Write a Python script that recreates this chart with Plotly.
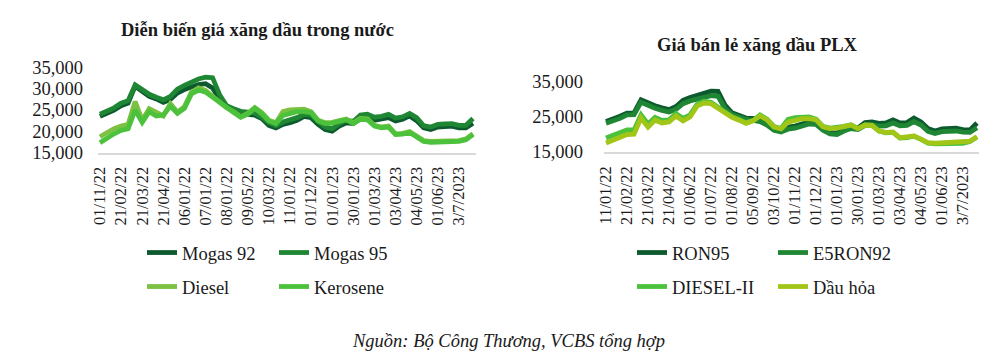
import plotly.graph_objects as go

# ---------------- data ----------------
n_points = 54
idx = list(range(n_points))
tick_idx = list(range(0, 52, 3))  # 18 labelled dates

left_ticks = ["01/11/22", "21/02/22", "21/03/22", "21/04/22", "06/01/22", "07/01/22",
              "08/01/22", "09/05/22", "10/03/22", "11/01/22", "01/12/22", "01/01/23",
              "30/01/23", "01/03/23", "03/04/23", "04/05/23", "01/06/23", "3/7/2023"]
right_ticks = ["11/01/22", "21/02/22", "21/03/22", "21/04/22", "01/06/22", "01/07/22",
               "01/08/22", "05/09/22", "03/10/22", "01/11/22", "01/12/22", "01/01/23",
               "30/01/23", "01/03/23", "03/04/23", "04/05/23", "01/06/23", "3/7/2023"]

mogas92 = [23500, 24200, 25000, 26000, 26600, 30600, 29400, 28200, 27600, 26800,
           27500, 29000, 29800, 30400, 31000, 31200, 30200, 27500, 25600, 25000,
           24200, 24000, 23800, 23000, 21400, 20800, 21600, 22000, 22600, 23500,
           23200, 21600, 20400, 20000, 21200, 22000, 21800, 23000, 23200, 22600,
           22800, 23200, 22400, 22800, 23600, 22500, 20800, 20400, 21000, 21100,
           21200, 20800, 20800, 21900]
mogas95 = [24000, 24700, 25500, 26600, 27200, 30900, 29800, 28700, 28000, 27400,
           28200, 29900, 30800, 31600, 32300, 32700, 32600, 28600, 26000, 25300,
           24700, 24500, 24300, 23300, 22000, 21300, 22200, 22700, 23200, 24000,
           23800, 22300, 21000, 20600, 21800, 22600, 22300, 23800, 24000, 23300,
           23500, 24000, 23100, 23400, 24200, 23200, 21300, 21000, 21600, 21700,
           21800, 21400, 21400, 23000]
diesel = [18700, 19700, 20600, 21200, 21600, 27000, 22600, 25300, 24300, 23600,
          26500, 24500, 25800, 29200, 30200, 29600, 28200, 26800, 25500, 24600,
          23400, 24200, 25600, 24400, 22600, 22000, 24600, 25000, 25200, 25200,
          24600, 22600, 22000, 22100, 22500, 22900, 22000, 23000, 22900, 21400,
          21000, 21200, 19400, 19500, 19900, 18900, 17800, 17600, 17700, 17600,
          17700, 17800, 18200, 19400]
kerosene = [17300, 18400, 19400, 20200, 20600, 25000, 22100, 24600, 23600, 23800,
            25900, 24200, 25400, 28800, 29700, 29200, 28000, 26600, 25300, 24400,
            23300, 24000, 25400, 24100, 22400, 21800, 23700, 24200, 24600, 24600,
            24400, 22400, 21800, 21900, 22300, 22700, 21800, 22800, 22700, 21200,
            20800, 21000, 19200, 19300, 19700, 18700, 17600, 17400, 17500, 17400,
            17500, 17600, 18000, 19200]

ron95 = [23700, 24300, 25200, 26100, 26200, 29900, 29000, 28200, 27600, 27100,
         28000, 29800, 30600, 31300, 32000, 32400, 32300, 28400, 26200, 25400,
         24700, 24600, 24200, 23200, 21700, 21200, 22100, 22400, 22900, 23600,
         23400, 21700, 20600, 20400, 21600, 22200, 21900, 23400, 23600, 23200,
         23300, 24200, 23300, 23400, 24700, 23600, 21700, 21000, 21600, 21800,
         21800, 21400, 21300, 23300]
e5ron92 = [23200, 23800, 24600, 25600, 25700, 29200, 28300, 27500, 26900, 26400,
           27200, 28800, 29600, 30200, 30800, 31100, 30900, 27400, 25700, 24900,
           24300, 24000, 23700, 22700, 21200, 20700, 21500, 21800, 22300, 23000,
           22900, 21200, 20200, 20000, 21000, 21700, 21400, 22600, 22800, 22400,
           22500, 23300, 22500, 22600, 23700, 22700, 20900, 20300, 20800, 21000,
           21000, 20700, 20600, 21900]
diesel2 = [19000, 19800, 20600, 21300, 21300, 25600, 23000, 24900, 24000, 24200,
           26000, 24600, 25600, 28600, 29500, 29200, 27800, 26400, 25100, 24300,
           23400, 24000, 25600, 24400, 22300, 21700, 24300, 24800, 25000, 25000,
           24400, 22300, 21800, 21900, 22300, 22800, 21700, 22700, 22600, 21000,
           20500, 20600, 19000, 19100, 19500, 18600, 17500, 17300, 17400, 17300,
           17400, 17500, 18000, 19300]
dau_hoa = [17600, 18300, 19200, 20000, 20100, 24700, 22100, 24100, 23300, 23600,
           25300, 23900, 25000, 28100, 29000, 28800, 27500, 26200, 24900, 24100,
           23200, 23900, 25300, 24200, 22100, 21600, 23500, 24000, 24500, 24500,
           24200, 22200, 21700, 21800, 22200, 22700, 21700, 22700, 22600, 21000,
           20600, 20700, 19100, 19200, 19600, 18700, 17700, 17500, 17600, 17500,
           17600, 17700, 18100, 19400]

# ---------------- styling ----------------
FONT = "Liberation Serif, Times New Roman, serif"
TXT = "#1a1a1a"
C_DARK = "#0d5a2f"
C_MID = "#1f8733"
C_DIESEL = "#7cc142"
C_KERO = "#4cc23c"
C_DAUHOA = "#a2c617"
LW = 4.8

fig = go.Figure()

left_series = [("Mogas 92", mogas92, C_DARK, "legend"),
               ("Mogas 95", mogas95, C_MID, "legend"),
               ("Diesel", diesel, C_DIESEL, "legend2"),
               ("Kerosene", kerosene, C_KERO, "legend2")]
right_series = [("RON95", ron95, C_DARK, "legend3"),
                ("E5RON92", e5ron92, C_MID, "legend3"),
                ("DIESEL-II", diesel2, C_KERO, "legend4"),
                ("Dầu hỏa", dau_hoa, C_DAUHOA, "legend4")]

for name, vals, col, lg in left_series:
    fig.add_trace(go.Scatter(x=idx, y=vals, mode="lines", name=name,
                             line=dict(color=col, width=LW), legend=lg,
                             xaxis="x", yaxis="y"))
for name, vals, col, lg in right_series:
    fig.add_trace(go.Scatter(x=idx, y=vals, mode="lines", name=name,
                             line=dict(color=col, width=LW), legend=lg,
                             xaxis="x2", yaxis="y2"))

W, H = 1000, 363


def px_x(p):
    return p / W


def px_y(p):
    return 1 - p / H


xcommon = dict(showgrid=False, zeroline=False, showline=True, linecolor="#d9d9d9",
               linewidth=1.5, tickangle=-90, tickmode="array", tickvals=tick_idx,
               ticks="", ticklabelstandoff=6, automargin=False,
               tickfont=dict(family=FONT, size=16.5, color=TXT))
ycommon = dict(showgrid=False, zeroline=False, showline=False, tickformat=",d",
               range=[15000, 35000], ticks="", tick0=15000, automargin=False,
               tickfont=dict(family=FONT, size=18.5, color=TXT))

leg_common = dict(orientation="h", bgcolor="rgba(0,0,0,0)", xanchor="left",
                  yanchor="middle", entrywidthmode="pixels",
                  font=dict(family=FONT, size=18.5, color=TXT))

fig.update_layout(
    template="none",
    width=W, height=H,
    margin=dict(l=0, r=0, t=0, b=0, pad=0),
    paper_bgcolor="white", plot_bgcolor="white",
    xaxis=dict(domain=[px_x(98), px_x(476)], range=[-0.28, 53.43],
               ticktext=left_ticks, anchor="y", **xcommon),
    yaxis=dict(domain=[px_y(152.5), px_y(67.5)], dtick=5000, anchor="x",
               ticklabelstandoff=14, **ycommon),
    xaxis2=dict(domain=[px_x(604), px_x(979)], range=[-0.29, 53.29],
                ticktext=right_ticks, anchor="y2", **xcommon),
    yaxis2=dict(domain=[px_y(152), px_y(82)], dtick=10000, anchor="x2",
                ticklabelstandoff=20, **ycommon),
    legend=dict(x=px_x(142), y=px_y(253), entrywidth=87, **leg_common),
    legend2=dict(x=px_x(142), y=px_y(287), entrywidth=87, **leg_common),
    legend3=dict(x=px_x(632), y=px_y(253), entrywidth=96, **leg_common),
    legend4=dict(x=px_x(632), y=px_y(287), entrywidth=96, **leg_common),
    showlegend=True,
    annotations=[
        dict(text="<b>Diễn biến giá xăng dầu trong nước</b>", x=px_x(257), y=px_y(30),
             xref="paper", yref="paper", showarrow=False, xanchor="center", yanchor="middle",
             font=dict(family=FONT, size=18.5, color=TXT)),
        dict(text="<b>Giá bán lẻ xăng dầu PLX</b>", x=px_x(757), y=px_y(45),
             xref="paper", yref="paper", showarrow=False, xanchor="center", yanchor="middle",
             font=dict(family=FONT, size=18.5, color=TXT)),
        dict(text="<i>Nguồn: Bộ Công Thương, VCBS tổng hợp</i>", x=px_x(508), y=px_y(341),
             xref="paper", yref="paper", showarrow=False, xanchor="center", yanchor="middle",
             font=dict(family=FONT, size=18.5, color=TXT)),
    ],
)

fig.write_html("out.html", config={"displayModeBar": False},
               post_script="document.body.style.margin='0px';")
